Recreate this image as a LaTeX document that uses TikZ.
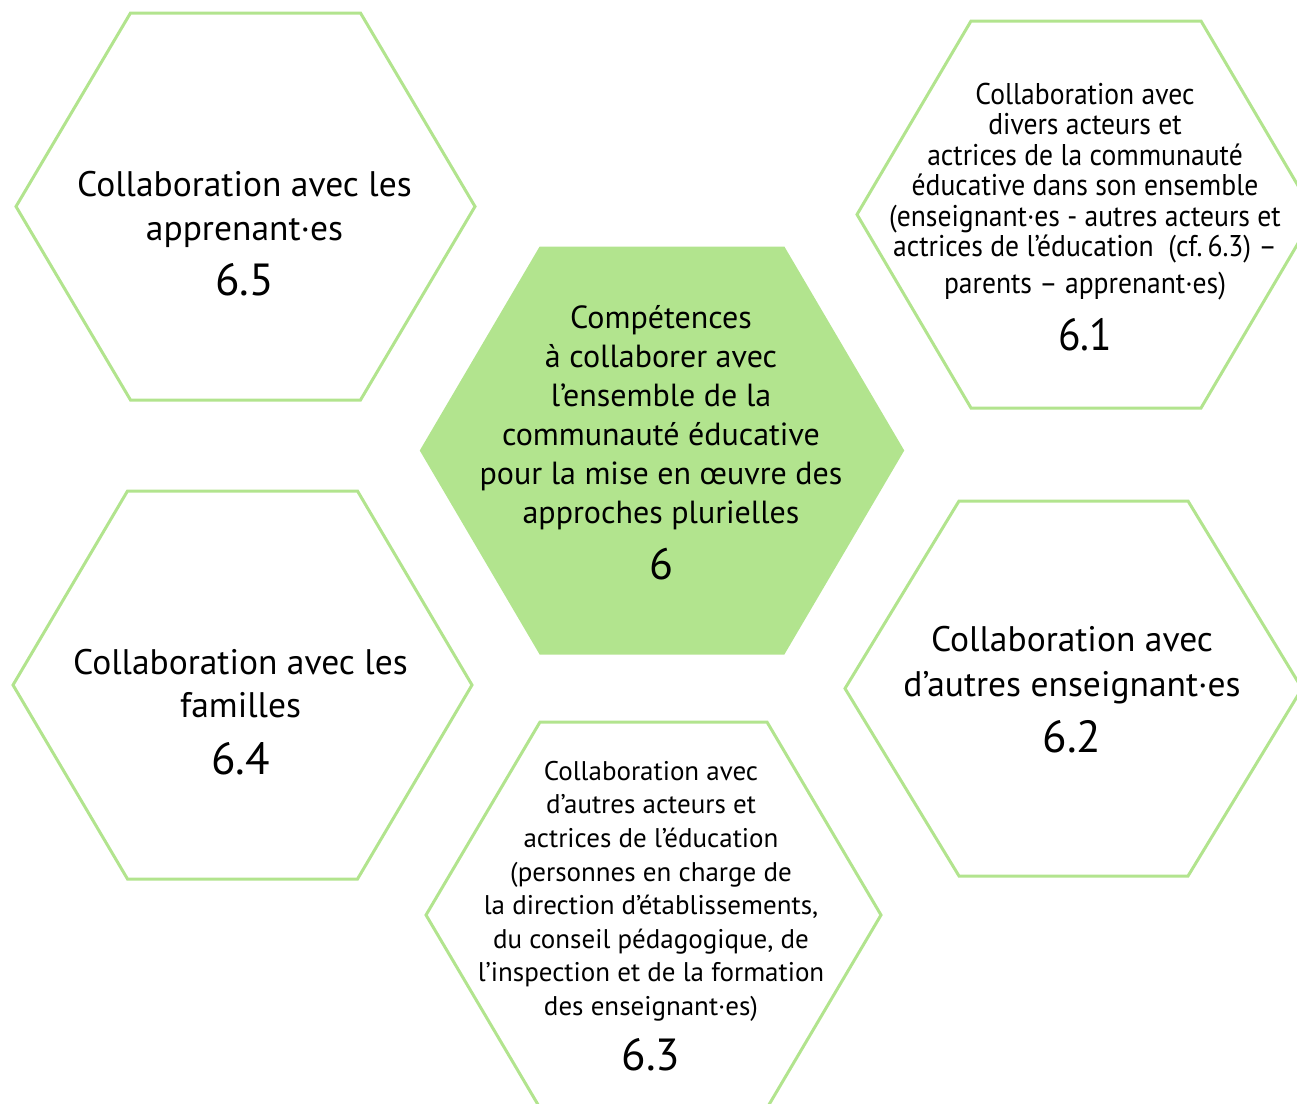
\documentclass[tikz,border=0pt]{standalone}
\usepackage{fontspec}
\setmainfont{PT Sans}
\newfontfamily\etroite[FakeStretch=0.92]{PT Sans}
\definecolor{vertclair}{RGB}{178,228,142}
\tikzset{
  hexa/.style={draw=vertclair, line width=3pt},
  hexaplein/.style={hexa, fill=vertclair},
  texte/.style={align=center, inner sep=0pt},
}
% hexagone [style] {centre} {demi-largeur} {demi-hauteur} {demi-cote}
\newcommand\hexagone[5][hexa]{%
  \draw[#1] (#2) ++(-#3,0) -- ++(#3-#5,-#4) -- ++(2*#5,0) -- ++(#3-#5,#4)
    -- ++(-#3+#5,#4) -- ++(-2*#5,0) -- cycle;}
\newcommand\numero[2]{{\fontsize{#1}{#1}\selectfont #2}}

\begin{document}
\begin{tikzpicture}[x=1pt, y=-1pt]
  \useasboundingbox (0,0) rectangle (1297,1103);
  \clip (0,0) rectangle (1297,1103);

  \coordinate (h6)  at (662,450.5);
  \coordinate (h61) at (1086,214.5);
  \coordinate (h62) at (1073.5,688.5);
  \coordinate (h63) at (653.5,915);
  \coordinate (h64) at (242.5,685);
  \coordinate (h65) at (245.5,206.5);

  \hexagone[hexaplein]{h6}{240.5}{202.5}{121.5}
  \hexagone{h61}{229}{193.5}{115}
  \hexagone{h62}{228.5}{187.5}{114.5}
  \hexagone{h63}{227.5}{193}{113.5}
  \hexagone{h64}{229.5}{194}{115}
  \hexagone{h65}{229.5}{193.5}{115}

  \node[texte, font=\fontsize{32}{39}\selectfont] (t6) at (661,443)
    {Compétences\\à collaborer avec\\l’ensemble de la\\communauté éducative\\pour la mise en œuvre des\\approches plurielles\\[17pt]\numero{44}{6}};
  \node[texte, font=\etroite\fontsize{30}{30.5}\selectfont] (t61) at (1085,217)
    {Collaboration avec\\divers acteurs et\\actrices de la communauté\\éducative dans son ensemble\\(enseignant·es - autres acteurs et\\actrices de l’éducation~ (cf.\,6.3) –\\[6.5pt]parents – apprenant·es)\\[17pt]\numero{45}{6.1}};
  \node[texte, font=\fontsize{35.5}{45}\selectfont] (t62) at (1072,689.5)
    {Collaboration avec\\d’autres enseignant·es\\[11pt]\numero{45}{6.2}};
  \node[texte, font=\fontsize{27}{33.6}\selectfont] (t63) at (651,916)
    {Collaboration avec\\d’autres acteurs et\\actrices de l’éducation\\(personnes en charge de\\la direction d’établissements,\\du conseil pédagogique, de\\l’inspection et de la formation\\des enseignant·es)\\[16pt]\numero{45}{6.3}};
  \node[texte, font=\fontsize{35.5}{43}\selectfont] (t64) at (240.5,712)
    {Collaboration avec les\\familles\\[14pt]\numero{45}{6.4}};
  \node[texte, font=\fontsize{35.5}{44}\selectfont] (t65) at (244.5,233.5)
    {Collaboration avec les\\apprenant·es\\[11pt]\numero{45}{6.5}};
\end{tikzpicture}
\end{document}
